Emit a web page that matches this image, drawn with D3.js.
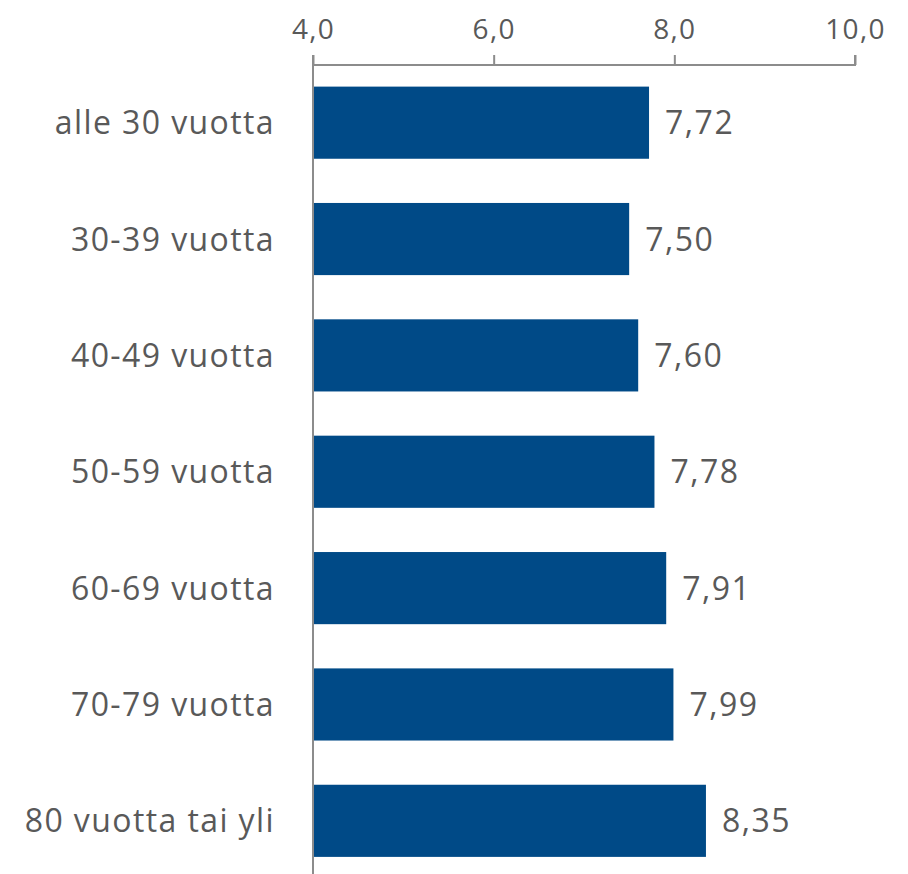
<!DOCTYPE html>
<html>
<head>
<meta charset="utf-8">
<script src="https://cdn.jsdelivr.net/npm/d3@7"></script>
<style>
  body { margin: 0; background: #fff; }
  svg text { font-family: "Open Sans", "Noto Sans", sans-serif; fill: #595959; }
</style>
</head>
<body>
<script>
var categories = ["alle 30 vuotta", "30-39 vuotta", "40-49 vuotta", "50-59 vuotta",
                  "60-69 vuotta", "70-79 vuotta", "80 vuotta tai yli"];
var values = [7.72, 7.50, 7.60, 7.78, 7.91, 7.99, 8.35];
var tickValues = [4, 6, 8, 10];

var width = 908,
    height = 874;

var fmt = function(v, d){ return v.toFixed(d).replace(".", ","); };

var x = d3.scaleLinear()
    .domain([4, 10])
    .range([313, 855]);

var y = d3.scaleBand()
    .domain(categories)
    .range([64.5, 879])
    .paddingInner(0.38)
    .paddingOuter(0.19);

var svg = d3.select("body")
    .append("svg")
    .attr("width", width)
    .attr("height", height);

// bars
svg.selectAll("rect.bar")
   .data(values)
   .enter()
   .append("rect")
   .attr("class", "bar")
   .attr("x", x(4))
   .attr("y", function(d, i){ return y(categories[i]); })
   .attr("width", function(d){ return x(d) - x(4); })
   .attr("height", y.bandwidth())
   .attr("fill", "#004a87");

// value labels
svg.selectAll("text.val")
   .data(values)
   .enter()
   .append("text")
   .attr("class", "val")
   .attr("x", function(d){ return x(d) + 16; })
   .attr("y", function(d, i){ return y(categories[i]) + y.bandwidth() / 2; })
   .attr("dy", "0.36em")
   .style("font-size", "32px")
   .style("letter-spacing", "1.5px")
   .text(function(d){ return fmt(d, 2); });

// top axis
var axis = d3.axisTop(x)
    .tickValues(tickValues)
    .tickSize(10)
    .tickPadding(16)
    .tickFormat(function(d){ return fmt(d, 1); });

var gx = svg.append("g")
    .attr("transform", "translate(0,65)")
    .call(axis);
gx.select(".domain").attr("stroke", "#8c8c8c").attr("stroke-width", 2)
  .attr("d", "M" + x(4) + ",-10V0H" + x(10) + "V-10");
gx.selectAll(".tick line").attr("stroke", "#8c8c8c").attr("stroke-width", 2);
gx.selectAll(".tick text")
  .style("font-size", "28px")
  .style("letter-spacing", "1.3px")
  .style("font-family", "'Open Sans', sans-serif")
  .attr("fill", "#595959");

// vertical axis line
svg.append("line")
   .attr("x1", x(4)).attr("x2", x(4))
   .attr("y1", 65).attr("y2", height)
   .attr("stroke", "#8c8c8c")
   .attr("stroke-width", 2);

// category labels
svg.selectAll("text.cat")
   .data(categories)
   .enter()
   .append("text")
   .attr("class", "cat")
   .attr("x", 275)
   .attr("y", function(d){ return y(d) + y.bandwidth() / 2; })
   .attr("dy", "0.36em")
   .attr("text-anchor", "end")
   .style("font-size", "32px")
   .style("letter-spacing", "1.4px")
   .text(function(d){ return d; });
</script>
</body>
</html>
